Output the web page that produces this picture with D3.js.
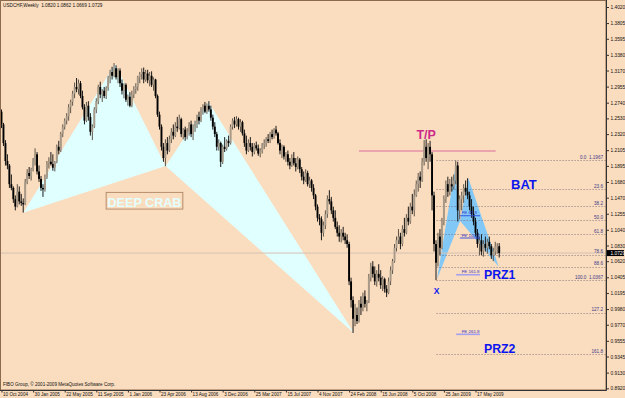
<!DOCTYPE html>
<html>
<head>
<meta charset="utf-8">
<script src="https://cdn.jsdelivr.net/npm/d3@7"></script>
<style>
  body { margin: 0; background: #fadcbe; }
  svg { display: block; font-family: "Liberation Sans", Arial, sans-serif; }
</style>
</head>
<body>
<svg id="chart" width="625" height="398"></svg>
<script>
// USDCHF weekly, one row per week starting 10 Oct 2004: [open, high, low, close]
var weeks = [
  [1.2620,1.2650,1.2400,1.2450],[1.2450,1.2470,1.2160,1.2200],[1.2200,1.2240,1.1900,1.1960],[1.1960,1.2050,1.1850,1.1900],
  [1.1900,1.1920,1.1600,1.1650],[1.1650,1.1780,1.1570,1.1600],[1.1600,1.1620,1.1400,1.1450],[1.1450,1.1500,1.1300,1.1350],
  [1.1350,1.1650,1.1340,1.1550],[1.1550,1.1620,1.1380,1.1420],[1.1420,1.1520,1.1360,1.1400],[1.1400,1.1460,1.1270,1.1380],
  [1.1380,1.1720,1.1370,1.1680],[1.1680,1.1850,1.1650,1.1800],[1.1800,1.1880,1.1720,1.1760],[1.1760,1.1870,1.1700,1.1850],
  [1.1850,1.2000,1.1820,1.1960],[1.1960,1.2130,1.1900,1.2050],[1.2050,1.2080,1.1780,1.1820],[1.1820,1.1900,1.1680,1.1720],
  [1.1720,1.1760,1.1560,1.1600],[1.1600,1.1650,1.1480,1.1580],[1.1580,1.1780,1.1550,1.1740],[1.1740,1.1960,1.1720,1.1930],
  [1.1930,1.2010,1.1860,1.1950],[1.1950,1.2080,1.1900,1.1920],[1.1920,1.2050,1.1830,1.1870],[1.1870,1.1960,1.1820,1.1950],
  [1.1950,1.2180,1.1930,1.2150],[1.2150,1.2230,1.2050,1.2100],[1.2100,1.2350,1.2080,1.2320],[1.2320,1.2450,1.2280,1.2420],
  [1.2420,1.2530,1.2380,1.2500],[1.2500,1.2600,1.2450,1.2560],[1.2560,1.2720,1.2500,1.2680],[1.2680,1.2780,1.2600,1.2750],
  [1.2750,1.2900,1.2700,1.2860],[1.2860,1.3010,1.2800,1.2950],[1.2950,1.3070,1.2880,1.2920],[1.2920,1.3050,1.2850,1.3000],
  [1.3000,1.3030,1.2800,1.2830],[1.2830,1.2900,1.2650,1.2680],[1.2680,1.2720,1.2450,1.2500],[1.2500,1.2750,1.2480,1.2700],
  [1.2700,1.2760,1.2500,1.2550],[1.2550,1.2600,1.2300,1.2350],[1.2350,1.2450,1.2240,1.2420],[1.2420,1.2680,1.2400,1.2650],
  [1.2650,1.2800,1.2600,1.2760],[1.2760,1.2980,1.2720,1.2950],[1.2950,1.3020,1.2800,1.2850],[1.2850,1.2920,1.2750,1.2900],
  [1.2900,1.2950,1.2800,1.2830],[1.2830,1.2960,1.2790,1.2940],[1.2940,1.3100,1.2900,1.3070],[1.3070,1.3180,1.3000,1.3150],
  [1.3150,1.3220,1.3050,1.3100],[1.3100,1.3270,1.3080,1.3200],[1.3200,1.3240,1.3050,1.3080],[1.3080,1.3200,1.3000,1.3170],
  [1.3170,1.3200,1.2950,1.3000],[1.3000,1.3050,1.2850,1.2900],[1.2900,1.3000,1.2800,1.2980],[1.2980,1.3000,1.2750,1.2780],
  [1.2780,1.2850,1.2700,1.2820],[1.2820,1.2880,1.2680,1.2700],[1.2700,1.2900,1.2680,1.2850],[1.2850,1.2960,1.2800,1.2920],
  [1.2920,1.3000,1.2860,1.2950],[1.2950,1.3100,1.2900,1.3080],[1.3080,1.3150,1.3000,1.3120],[1.3120,1.3200,1.3050,1.3150],
  [1.3150,1.3210,1.3000,1.3050],[1.3050,1.3180,1.3020,1.3130],[1.3130,1.3180,1.3000,1.3040],[1.3040,1.3150,1.2960,1.3100],
  [1.3100,1.3160,1.2950,1.2980],[1.2980,1.3080,1.2900,1.3050],[1.3050,1.3060,1.2800,1.2830],[1.2830,1.2850,1.2550,1.2580],
  [1.2580,1.2620,1.2380,1.2420],[1.2420,1.2450,1.2100,1.2150],[1.2150,1.2200,1.1950,1.2000],[1.2000,1.2250,1.1890,1.2200],
  [1.2200,1.2280,1.2050,1.2100],[1.2100,1.2300,1.2080,1.2250],[1.2250,1.2400,1.2200,1.2350],[1.2350,1.2450,1.2250,1.2300],
  [1.2300,1.2480,1.2280,1.2420],[1.2420,1.2550,1.2350,1.2400],[1.2400,1.2580,1.2380,1.2520],[1.2520,1.2540,1.2280,1.2320],
  [1.2320,1.2400,1.2250,1.2380],[1.2380,1.2420,1.2230,1.2280],[1.2280,1.2400,1.2250,1.2350],[1.2350,1.2480,1.2300,1.2450],
  [1.2450,1.2500,1.2280,1.2320],[1.2320,1.2450,1.2240,1.2420],[1.2420,1.2500,1.2350,1.2460],[1.2460,1.2580,1.2400,1.2550],
  [1.2550,1.2620,1.2450,1.2500],[1.2500,1.2680,1.2480,1.2650],[1.2650,1.2720,1.2580,1.2700],[1.2700,1.2750,1.2600,1.2620],
  [1.2620,1.2730,1.2590,1.2700],[1.2700,1.2760,1.2620,1.2650],[1.2650,1.2700,1.2500,1.2540],[1.2540,1.2580,1.2380,1.2420],
  [1.2420,1.2480,1.2280,1.2320],[1.2320,1.2350,1.2100,1.2150],[1.2150,1.2250,1.2100,1.2200],[1.2200,1.2220,1.1880,1.1950],
  [1.1950,1.2180,1.1920,1.2150],[1.2150,1.2280,1.2080,1.2120],[1.2120,1.2250,1.2100,1.2230],[1.2230,1.2300,1.2150,1.2200],
  [1.2200,1.2450,1.2180,1.2420],[1.2420,1.2530,1.2380,1.2500],[1.2500,1.2550,1.2400,1.2450],[1.2450,1.2560,1.2420,1.2520],
  [1.2520,1.2540,1.2380,1.2420],[1.2420,1.2520,1.2350,1.2480],[1.2480,1.2500,1.2300,1.2330],[1.2330,1.2380,1.2150,1.2200],
  [1.2200,1.2300,1.2050,1.2100],[1.2100,1.2250,1.2080,1.2200],[1.2200,1.2280,1.2100,1.2150],[1.2150,1.2200,1.2020,1.2080],
  [1.2080,1.2200,1.2050,1.2170],[1.2170,1.2220,1.2100,1.2130],[1.2130,1.2180,1.2030,1.2060],[1.2060,1.2130,1.2010,1.2100],
  [1.2100,1.2200,1.2060,1.2180],[1.2180,1.2250,1.2120,1.2200],[1.2200,1.2280,1.2150,1.2250],[1.2250,1.2320,1.2200,1.2230],
  [1.2230,1.2350,1.2200,1.2320],[1.2320,1.2380,1.2250,1.2280],[1.2280,1.2400,1.2260,1.2380],[1.2380,1.2430,1.2300,1.2330],
  [1.2330,1.2350,1.2180,1.2200],[1.2200,1.2250,1.2050,1.2100],[1.2100,1.2180,1.2000,1.2150],[1.2150,1.2170,1.1980,1.2020],
  [1.2020,1.2080,1.1950,1.2050],[1.2050,1.2100,1.1900,1.1950],[1.1950,1.2000,1.1850,1.1900],[1.1900,1.2050,1.1880,1.2000],
  [1.2000,1.2080,1.1900,1.1930],[1.1930,1.2000,1.1820,1.1880],[1.1880,1.2020,1.1850,1.1980],[1.1980,1.2000,1.1800,1.1850],
  [1.1850,1.1880,1.1700,1.1750],[1.1750,1.1820,1.1650,1.1700],[1.1700,1.1850,1.1680,1.1800],[1.1800,1.1830,1.1620,1.1650],
  [1.1650,1.1750,1.1600,1.1700],[1.1700,1.1720,1.1550,1.1600],[1.1600,1.1650,1.1450,1.1500],[1.1500,1.1520,1.1300,1.1350],
  [1.1350,1.1380,1.1150,1.1200],[1.1200,1.1250,1.1100,1.1180],[1.1180,1.1220,1.0900,1.1000],[1.1000,1.1150,1.0950,1.1100],
  [1.1100,1.1300,1.1050,1.1250],[1.1250,1.1500,1.1200,1.1450],[1.1450,1.1570,1.1380,1.1420],[1.1420,1.1480,1.1250,1.1300],
  [1.1300,1.1350,1.1150,1.1200],[1.1200,1.1300,1.1050,1.1080],[1.1080,1.1150,1.0950,1.1000],[1.1000,1.1100,1.0880,1.0950],
  [1.0950,1.1050,1.0870,1.1000],[1.1000,1.1080,1.0900,1.0950],[1.0950,1.1000,1.0850,1.0900],[1.0900,1.0980,1.0800,1.0850],
  [1.0850,1.0880,1.0300,1.0350],[1.0350,1.0400,1.0000,1.0100],[1.0100,1.0150,0.9660,0.9850],[0.9850,1.0050,0.9750,0.9900],
  [0.9900,1.0000,0.9780,0.9820],[0.9820,1.0100,0.9800,1.0050],[1.0050,1.0150,0.9900,1.0000],[1.0000,1.0200,0.9950,1.0150],
  [1.0150,1.0230,1.0000,1.0050],[1.0050,1.0100,0.9950,1.0080],[1.0080,1.0450,1.0060,1.0400],[1.0400,1.0600,1.0350,1.0550],
  [1.0550,1.0620,1.0400,1.0450],[1.0450,1.0550,1.0300,1.0350],[1.0350,1.0500,1.0280,1.0450],[1.0450,1.0580,1.0350,1.0400],
  [1.0400,1.0500,1.0250,1.0300],[1.0300,1.0420,1.0220,1.0380],[1.0380,1.0400,1.0200,1.0250],[1.0250,1.0300,1.0140,1.0200],
  [1.0200,1.0400,1.0180,1.0350],[1.0350,1.0550,1.0300,1.0500],[1.0500,1.0650,1.0450,1.0620],[1.0620,1.0850,1.0600,1.0800],
  [1.0800,1.0950,1.0750,1.0900],[1.0900,1.1050,1.0850,1.0950],[1.0950,1.1000,1.0780,1.0850],[1.0850,1.1100,1.0820,1.1050],
  [1.1050,1.1200,1.0950,1.1000],[1.1000,1.1250,1.0980,1.1200],[1.1200,1.1350,1.1100,1.1150],[1.1150,1.1400,1.1120,1.1350],
  [1.1350,1.1520,1.1250,1.1300],[1.1300,1.1580,1.1220,1.1500],[1.1500,1.1700,1.1480,1.1650],[1.1650,1.1800,1.1550,1.1750],
  [1.1750,1.1820,1.1600,1.1700],[1.1700,1.2000,1.1680,1.1950],[1.1950,1.2240,1.1900,1.2150],[1.2150,1.2250,1.1950,1.2000],
  [1.2000,1.2200,1.1850,1.2150],[1.2150,1.2230,1.1950,1.2050],[1.2050,1.2080,1.1300,1.1500],[1.1500,1.1550,1.0750,1.0850],
  [1.0850,1.0900,1.0367,1.0600],[1.0600,1.1000,1.0550,1.0950],[1.0950,1.1050,1.0700,1.0800],[1.0800,1.1200,1.0780,1.1150],
  [1.1150,1.1500,1.1100,1.1450],[1.1450,1.1700,1.1400,1.1650],[1.1650,1.1750,1.1480,1.1550],[1.1550,1.1720,1.1500,1.1650],
  [1.1650,1.1750,1.1550,1.1620],[1.1620,1.1780,1.1580,1.1700],[1.1700,1.1967,1.1650,1.1900],[1.1900,1.1950,1.1150,1.1300],
  [1.1300,1.1500,1.1180,1.1450],[1.1450,1.1550,1.1300,1.1500],[1.1500,1.1650,1.1400,1.1600],[1.1600,1.1700,1.1500,1.1550],
  [1.1550,1.1730,1.1450,1.1500],[1.1500,1.1550,1.1300,1.1350],[1.1350,1.1450,1.1200,1.1250],[1.1250,1.1350,1.1100,1.1150],
  [1.1150,1.1200,1.0950,1.1000],[1.1000,1.1050,1.0800,1.0850],[1.0850,1.0950,1.0700,1.0900],[1.0900,1.0980,1.0700,1.0750],
  [1.0750,1.0900,1.0680,1.0850],[1.0850,1.0950,1.0750,1.0800],[1.0800,1.0920,1.0720,1.0880],[1.0880,1.0950,1.0780,1.0820],
  [1.0820,1.0850,1.0650,1.0700],[1.0700,1.0800,1.0620,1.0750],[1.0750,1.0880,1.0700,1.0820],[1.0820,1.0860,1.0720,1.0820],
  [1.0820,1.0862,1.0669,1.0729]
]

var dateLabels = ["10 Oct 2004", "30 Jan 2005", "22 May 2005", "11 Sep 2005", "1 Jan 2006", "23 Apr 2006",
  "13 Aug 2006", "3 Dec 2006", "25 Mar 2007", "15 Jul 2007", "4 Nov 2007", "24 Feb 2008",
  "15 Jun 2008", "5 Oct 2008", "25 Jan 2009", "17 May 2009"]

var priceTicks = [1.4020, 1.3805, 1.3595, 1.3380, 1.3170, 1.2955, 1.2740, 1.2530, 1.2320, 1.2105,
  1.1895, 1.1680, 1.1470, 1.1255, 1.1040, 1.0830, 1.0620, 1.0405, 1.0195, 0.9980,
  0.9770, 0.9555, 0.9345, 0.9130, 0.8920]

// harmonic pattern points: [bar, price]
var crabPoints = [[11, 1.1269], [57.5, 1.3258], [83.1, 1.1893], [104.7, 1.2753], [178.5, 0.9655]]
var batPoints = [[220.5, 1.0380], [229.6, 1.1840], [232.2, 1.1158], [236.4, 1.1729], [251.7, 1.0550]]

// fibo retracement of the bat (starts at X)
var fibNames = ["0.0  1.1967", "23.6", "38.2", "50.0", "61.8", "78.6", "88.6", "100.0  1.0367", "127.2", "161.8"]
var fibPrices = [1.1967, 1.1589, 1.1356, 1.1167, 1.0978, 1.0709, 1.0549, 1.0367, 0.9932, 0.9379]
var fibStartBar = 220.3

// fibo expansion marks
var feNames = ["FE 61.8", "FE 100.0", "FE 161.8", "FE 261.8"]
var fePrices = [1.1228, 1.0930, 1.0439, 0.9642]

var tpPrice = 1.2094
var lastPrice = 1.0729

var svg = d3.select("#chart")
var W = 625, H = 398, plotRight = 606, plotBottom = 390

var x = d3.scaleLinear().domain([0, 252]).range([1.5, 499.2])
var y = d3.scaleLinear().domain([0.892, 1.402]).range([388.3, 7])

svg.append("rect").attr("width", W).attr("height", H).attr("fill", "#fadcbe")

// Pattern fills (background objects)
function tri(pts, a, b, c) {
  return [pts[a], pts[b], pts[c]].map(p => x(p[0]) + "," + y(p[1])).join(" ")
}
var shapes = svg.append("g")
shapes.append("polygon").attr("points", tri(crabPoints, 0, 1, 2)).attr("fill", "#e0ffff")
shapes.append("polygon").attr("points", tri(crabPoints, 2, 3, 4)).attr("fill", "#e0ffff")
shapes.append("polygon").attr("points", tri(batPoints, 0, 1, 2)).attr("fill", "#82c8f6")
shapes.append("polygon").attr("points", tri(batPoints, 2, 3, 4)).attr("fill", "#82c8f6")

// bid line
svg.append("line")
  .attr("x1", 0).attr("x2", plotRight)
  .attr("y1", y(lastPrice)).attr("y2", y(lastPrice))
  .attr("stroke", "#d5c2b2").attr("stroke-width", 1)

// Fibo levels
var fib = svg.append("g")
fibPrices.forEach(function (p, i) {
  fib.append("line")
    .attr("x1", x(fibStartBar)).attr("x2", plotRight)
    .attr("y1", Math.round(y(p)) + 0.5).attr("y2", Math.round(y(p)) + 0.5)
    .attr("stroke", "#6d6070").attr("stroke-width", 0.8)
    .attr("stroke-dasharray", "1,2")
  fib.append("text")
    .attr("x", 603).attr("y", y(p) - 1.2)
    .attr("text-anchor", "end")
    .attr("font-size", 4.6).attr("fill", "#3a3a8c")
    .attr("xml:space", "preserve")
    .text(fibNames[i])
})

// T/P line
svg.append("line")
  .attr("x1", x(181)).attr("x2", x(250.2))
  .attr("y1", y(tpPrice)).attr("y2", y(tpPrice))
  .attr("stroke", "#d8609a").attr("stroke-width", 0.9)

// Candles
var candles = svg.append("g")
weeks.forEach(function (d, i) {
  var o = d[0], h = d[1], l = d[2], c = d[3]
  var up = c >= o
  var cx = x(i)
  candles.append("line")
    .attr("x1", cx).attr("x2", cx)
    .attr("y1", y(h)).attr("y2", y(l))
    .attr("stroke", up ? "#5e554b" : "#1a1a1a").attr("stroke-width", 1)
  var top = y(Math.max(o, c)), bot = y(Math.min(o, c))
  candles.append("rect")
    .attr("x", cx - 0.95).attr("width", 1.9)
    .attr("y", top).attr("height", Math.max(bot - top, 0.8))
    .attr("fill", up ? "#a89a88" : "#000")
})

// FE marks
var fe = svg.append("g")
fePrices.forEach(function (p, i) {
  var big = i >= 2
  fe.append("line")
    .attr("x1", x(big ? 230.2 : 232.1)).attr("x2", x(242.3))
    .attr("y1", y(p)).attr("y2", y(p))
    .attr("stroke", big ? "#a4a0f0" : "#2f4ae0")
    .attr("stroke-width", big ? 1.6 : 0.9)
  fe.append("text")
    .attr("x", x(233)).attr("y", y(p) - 1.3)
    .attr("font-size", 4.4).attr("fill", "#3434c4")
    .text(feNames[i])
})

// pattern labels: [text, bar, price, size, colour]
var labels = [
  ["T/P", 215, 1.2254, 12.5, "#cc2a8a"],
  ["BAT", 258, 1.1592, 13, "#0a14f0"],
  ["PRZ1", 244.3, 1.0388, 12.3, "#0a14f0"],
  ["PRZ2", 244.3, 0.9392, 12.3, "#0a14f0"],
  ["X", 218.8, 1.0181, 8.5, "#0a14f0"]
]
labels.forEach(function (d) {
  svg.append("text")
    .attr("x", x(d[1])).attr("y", y(d[2]))
    .attr("font-size", d[3]).attr("font-weight", "bold")
    .attr("fill", d[4])
    .attr("text-anchor", d[0] == "T/P" ? "middle" : "start")
    .text(d[0])
})

// DEEP CRAB box
var crabBox = svg.append("g")
crabBox.append("rect")
  .attr("x", x(53)).attr("y", y(1.1540))
  .attr("width", x(91.8) - x(53)).attr("height", y(1.1317) - y(1.1540))
  .attr("fill", "none").attr("stroke", "#b48e6c").attr("stroke-width", 1)
crabBox.append("text")
  .attr("x", x(72.4)).attr("y", y(1.1345))
  .attr("text-anchor", "middle")
  .attr("font-size", 12.6).attr("font-weight", "bold")
  .attr("fill", "#e4ffff")
  .text("DEEP CRAB")

// Frame
svg.append("rect")
  .attr("x", 0.5).attr("y", 0.5)
  .attr("width", plotRight - 0.5).attr("height", plotBottom - 0.5)
  .attr("fill", "none").attr("stroke", "#8c6a4e").attr("stroke-width", 1)
svg.append("line").attr("x1", plotRight + 0.5).attr("x2", plotRight + 0.5)
  .attr("y1", 0).attr("y2", plotBottom + 0.5).attr("stroke", "#333")
svg.append("line").attr("x1", 0).attr("x2", plotRight + 0.5)
  .attr("y1", plotBottom + 0.5).attr("y2", plotBottom + 0.5).attr("stroke", "#333")

// Price axis
var yAxis = svg.append("g")
  .attr("transform", "translate(" + (plotRight + 0.5) + ",0)")
  .call(d3.axisRight(y).tickValues(priceTicks).tickSize(2.5).tickSizeOuter(0)
    .tickFormat(d3.format(".4f")))
yAxis.select(".domain").remove()
yAxis.selectAll("line").attr("stroke", "#333")
yAxis.selectAll("text").attr("x", 4).attr("font-size", 4.8).attr("fill", "#111")
  .attr("font-family", "Liberation Sans, Arial, sans-serif")

// current price marker
svg.append("rect")
  .attr("x", plotRight + 1).attr("y", y(lastPrice) - 3)
  .attr("width", 17).attr("height", 6).attr("fill", "#000")
svg.append("text")
  .attr("x", plotRight + 4.5).attr("y", y(lastPrice))
  .attr("dy", "0.33em")
  .attr("font-size", 4.8).attr("fill", "#fff")
  .text(d3.format(".4f")(lastPrice))

// Time axis
var xAxis = svg.append("g")
  .attr("transform", "translate(0," + (plotBottom + 0.5) + ")")
  .call(d3.axisBottom(x).tickValues(d3.range(0, 241, 16)).tickSize(2).tickSizeOuter(0)
    .tickFormat(function (d, i) { return dateLabels[i] }))
xAxis.select(".domain").remove()
xAxis.selectAll("line").attr("stroke", "#333")
xAxis.selectAll("text").attr("text-anchor", "start").attr("x", 1).attr("y", 2.5)
  .attr("font-size", 4.6).attr("fill", "#111")
  .attr("font-family", "Liberation Sans, Arial, sans-serif")

// titles
svg.append("text").attr("x", 3).attr("y", 7)
  .attr("font-size", 4.7).attr("fill", "#111")
  .attr("xml:space", "preserve")
  .text("USDCHF,Weekly  1.0820 1.0862 1.0669 1.0729")
svg.append("text").attr("x", 3).attr("y", 386)
  .attr("font-size", 4.6).attr("fill", "#111")
  .text("FIBO Group, © 2001-2009 MetaQuotes Software Corp.")
</script>
</body>
</html>
